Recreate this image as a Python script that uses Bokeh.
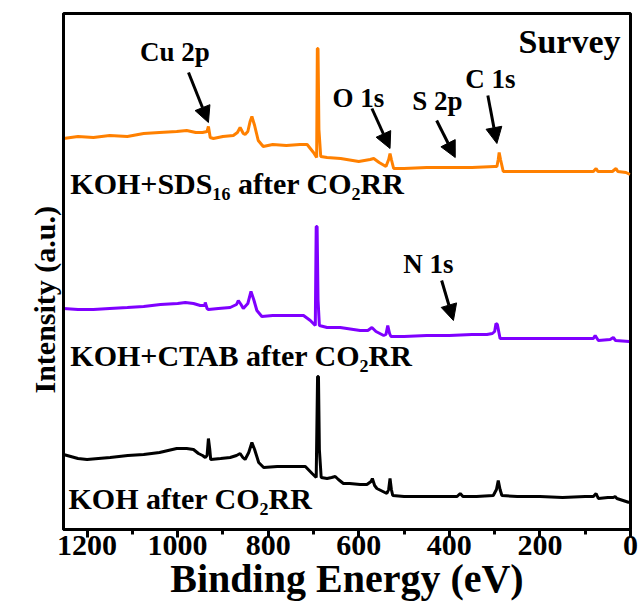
from bokeh.plotting import figure
from bokeh.models import Range1d, SingleIntervalTicker, FixedTicker, Label, Arrow, NormalHead, Title
from bokeh.embed import file_html
from bokeh.resources import INLINE

# ---------------- data ----------------
# KOH+SDS16 after CO2RR (orange)
sds_be = [1252, 1220, 1186, 1150, 1111, 1075, 1040, 1002, 980, 960, 945, 935, 932, 928, 921, 900, 877,
          868, 862, 855, 851, 845, 840, 836, 830, 822, 811, 790, 760, 730, 714, 700, 693, 691.5, 690,
          688, 684, 670, 640, 600, 575, 567, 555, 540, 534, 531, 528, 523, 500, 450, 400, 350, 300,
          295, 292, 290, 287, 281, 250, 200, 150, 100, 82, 76, 72, 40, 32, 28, 10, 1]
sds_int = [391, 393, 392, 394, 393, 396, 397, 398, 399, 397, 397, 398, 403, 392, 391, 393, 394,
           397, 402, 396, 395, 398, 408, 413, 404, 389, 383, 385, 384, 385, 385, 377, 372, 481, 481,
           400, 373, 372, 371, 368, 370, 371, 367, 363, 370, 376, 370, 361, 361, 362, 362, 362, 363,
           363, 370, 377, 370, 358, 358, 358, 358, 358, 358, 361, 358, 358, 361, 358, 357, 355]

# KOH+CTAB after CO2RR (purple)
ctab_be = [1252, 1220, 1186, 1150, 1111, 1075, 1038, 1000, 983, 965, 950, 940, 939, 935, 932, 910, 884,
           870, 866, 860, 855, 845, 838, 832, 825, 814, 790, 760, 722, 707, 696, 694, 692, 690, 687,
           670, 641, 597, 580, 571, 562, 545, 540, 536, 532, 529, 500, 450, 400, 350, 317, 305, 300,
           297, 294, 288, 250, 200, 150, 100, 82, 78, 71, 45, 38, 33, 3]
ctab_int = [221, 220, 220, 221, 222, 223, 225, 226, 227, 226, 224, 224, 227, 221, 220, 221, 222,
            225, 229, 225, 221, 226, 238, 230, 219, 213, 214, 214, 214, 209, 204, 303, 303, 230, 204,
            202, 202, 199, 199, 202, 198, 194, 195, 204, 196, 193, 193, 194, 194, 195, 195, 196, 198,
            206, 205, 191, 191, 191, 191, 191, 191, 194, 189, 190, 192, 189, 188]

# KOH after CO2RR (black)
koh_be = [1252, 1244, 1220, 1200, 1175, 1149, 1110, 1075, 1040, 1002, 980, 965, 954, 945, 939, 935, 932,
          929, 927, 905, 884, 870, 862, 856, 851, 843, 836, 830, 821, 810, 780, 750, 718, 703, 694,
          691, 689, 687, 683, 670, 660, 652, 645, 634, 620, 597, 582, 573, 570, 565, 560, 538, 534,
          531, 528, 525, 500, 450, 400, 383, 376, 370, 340, 303, 296, 292, 288, 284, 250, 200, 150,
          100, 82, 76, 71, 50, 38, 34, 30, 3]
koh_int = [75, 74, 71, 70, 71, 72, 74, 75, 77, 81, 81, 80, 76, 74, 72, 74, 91,
           80, 70, 71, 72, 74, 76, 72, 70, 77, 87, 80, 67, 62, 63, 63, 63, 56, 52,
           153, 153, 80, 52, 51, 52, 53, 50, 46, 46, 45, 45, 48, 51, 44, 41, 36, 40,
           51, 40, 34, 33, 33, 33, 33, 36, 33, 33, 34, 40, 49, 40, 34, 33, 33, 32,
           33, 33, 36, 31, 32, 32, 33, 31, 27]

x_ticks = [0, 200, 400, 600, 800, 1000, 1200]

# ---------------- figure ----------------
FONT = "Liberation Serif"

p = figure(width=642, height=610, x_range=Range1d(1252, 0), y_range=Range1d(0, 516),
           output_backend="svg", toolbar_location=None,
           min_border_left=63, min_border_right=12, min_border_top=13, min_border_bottom=81)
p.grid.visible = False
p.outline_line_color = "black"
p.outline_line_width = 3
p.background_fill_color = "white"
p.border_fill_color = "white"

p.line(sds_be, sds_int, line_color="#FF8000", line_width=3)
p.line(ctab_be, ctab_int, line_color="#7F00FF", line_width=3)
p.line(koh_be, koh_int, line_color="black", line_width=3)

xa = p.xaxis[0]
xa.ticker = SingleIntervalTicker(interval=200, num_minor_ticks=2)
xa.axis_line_width = 3
xa.major_tick_line_width = 3
xa.minor_tick_line_width = 3
xa.major_tick_in = 0
xa.major_tick_out = 8
xa.minor_tick_in = 0
xa.minor_tick_out = 5
xa.major_label_text_font = FONT
xa.major_label_text_font_style = "bold"
xa.major_label_text_font_size = "30px"
xa.major_label_text_color = "black"
xa.major_label_standoff = -2
xa.axis_label = "Binding Energy (eV)"
xa.axis_label_text_font = FONT
xa.axis_label_text_font_style = "bold"
xa.axis_label_text_font_size = "40px"
xa.axis_label_text_color = "black"
xa.axis_label_standoff = -2

ya = p.yaxis[0]
ya.ticker = FixedTicker(ticks=[])
ya.axis_line_width = 3
ya.major_tick_line_color = None
ya.minor_tick_line_color = None
ya.major_tick_out = 0
ya.major_label_standoff = 0
ya.major_label_text_font_size = "0px"

# y-axis title at the left, sitting a little below the frame centre as in the original
p.add_layout(Title(text="Intensity (a.u.)", align="left", offset=136, standoff=5,
                   text_font=FONT, text_font_style="bold", text_font_size="30px",
                   text_color="black"), "left")


def lab(x, y, t, size, align="left"):
    p.add_layout(Label(x=x, y=y, text=t, text_font=FONT, text_font_style="bold",
                       text_font_size=size, text_color="black", text_align=align,
                       text_baseline="alphabetic"))


lab(22, 488, "Survey", "34px", "right")
lab(1083, 478, "Cu 2p", "27px")
lab(658, 432, "O 1s", "27px")
lab(482, 429, "S 2p", "27px")
lab(365, 451, "C 1s", "27px")
lab(502, 266, "N 1s", "27px")
lab(1237, 346, "KOH+SDS\u2081\u2086 after CO\u2082RR", "30px")
lab(1237, 174, "KOH+CTAB after CO\u2082RR", "30px")
lab(1241, 31, "KOH after CO\u2082RR", "30px")

for (x0, y0, x1, y1) in [(976, 457, 932, 407), (571, 421, 531, 381), (428, 409, 387, 372),
                         (315, 434, 295, 386), (417, 249, 391, 209)]:
    p.add_layout(Arrow(x_start=x0, y_start=y0, x_end=x1, y_end=y1, line_width=3, line_color="black",
                       end=NormalHead(size=16, fill_color="black", line_color="black", line_width=1)))

open("out.html", "w").write(file_html(p, INLINE))
